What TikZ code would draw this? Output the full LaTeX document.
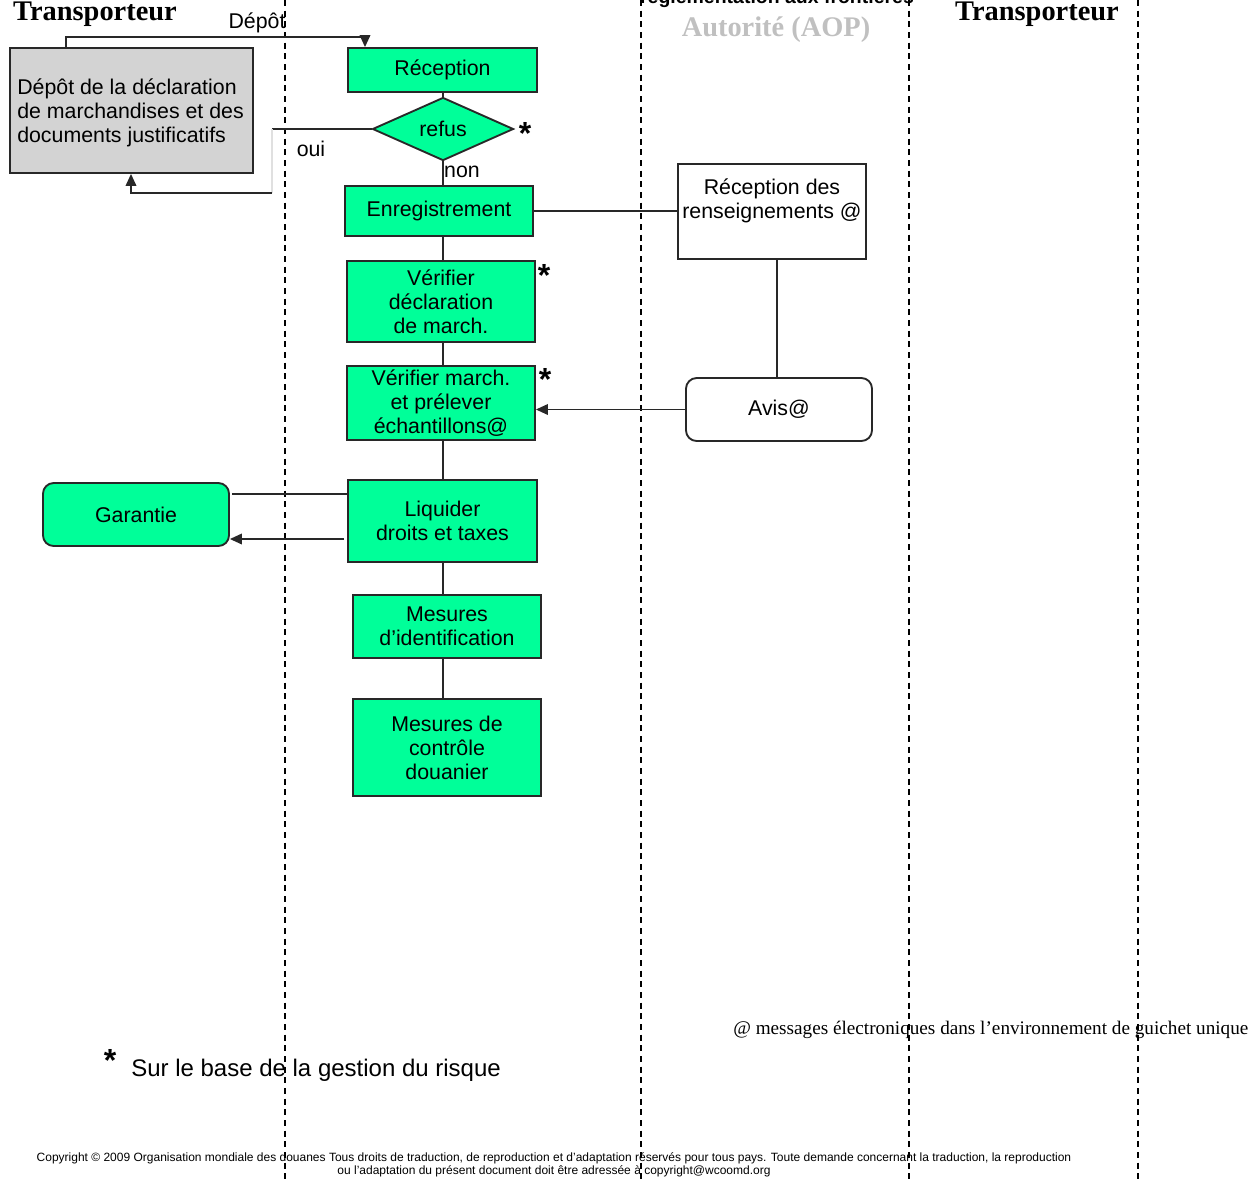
\documentclass[tikz,border=0pt]{standalone}
\usepackage{fontspec}
\setmainfont{Liberation Serif}
\setsansfont{Liberation Sans}
\usetikzlibrary{shapes.geometric,arrows.meta}
\definecolor{vert}{RGB}{0,255,153}
\definecolor{gris}{RGB}{211,211,211}
\definecolor{bord}{RGB}{40,40,40}
\definecolor{autor}{RGB}{192,192,192}
\newcommand\boxfont{\sffamily\fontsize{16}{18}\selectfont}
\begin{document}
\begin{tikzpicture}[x=0.75pt,y=-0.75pt,
  corners/.style n args={4}{minimum width={(#3-#1)*0.75pt},minimum height={(#4-#2)*0.75pt},at={({(#1+#3)/2},{(#2+#4)/2})}},
  box/.style={draw=bord,line width=1.4pt,fill=vert,inner sep=0pt,font=\boxfont,align=center},
  gbox/.style={box,fill=gris},
  wbox/.style={box,fill=white},
  conn/.style={line width=1.1pt,draw=bord},
  arr/.style={conn,-{Triangle[length=9pt,width=8pt]}},
  lane/.style={line width=1.2pt,dash pattern=on 4.5pt off 3.5pt},
  title/.style={font=\rmfamily\bfseries\fontsize{21.3}{24}\selectfont},
  lbl/.style={font=\boxfont,inner sep=0pt},
  star/.style={font=\sffamily\bfseries\fontsize{24}{24}\selectfont,inner sep=0pt}]
\useasboundingbox (0,0) rectangle (1256,1183);
\clip (0,0) rectangle (1256,1183);
% swimlane separators
\foreach \xx in {285,641,909,1138} \draw[lane] (\xx,0) -- (\xx,1183);
% headers
\node[title,anchor=base] (t1) at (95,20) {Transporteur};
\node[title,anchor=base] (t2) at (1037,20) {Transporteur};
\node[title,text=autor,anchor=base] (t3) at (776,36) {Autorité (AOP)};
\node[font=\sffamily\bfseries\fontsize{14.6}{16}\selectfont,anchor=base,inner sep=0pt] (t4) at (777,3) {réglementation aux frontières};
% nodes
\node[gbox,minimum width=243*0.75pt,minimum height=125*0.75pt] (depot) at (131.5,110.5) {};
\node[lbl,align=left,anchor=west] (depottxt) at (17,113) {Dépôt de la déclaration\\de marchandises et des\\documents justificatifs};
\node[box,corners={348}{48}{537}{92}] (recep) {Réception};
\node[diamond,draw=bord,line width=1.4pt,fill=vert,inner sep=0pt,minimum width=141*0.75pt,minimum height=54*0.75pt,font=\boxfont] (refus) at (443,129) {refus};
\node[star] (s1) at (525,133) {*};
\node[box,corners={345}{186}{533}{236}] (enr) {Enregistrement};
\node[box,corners={347}{261}{535}{342}] (vd) {Vérifier\\déclaration\\de march.};
\node[star] (s2) at (544,275) {*};
\node[box,corners={347}{366}{535}{440}] (vm) {Vérifier march.\\et prélever\\échantillons@};
\node[star] (s3) at (545,379) {*};
\node[box,corners={348}{480}{537}{562}] (liq) {Liquider\\droits et taxes};
\node[box,corners={353}{595}{541}{658}] (mid) {Mesures\\d’identification};
\node[box,corners={353}{699}{541}{796}] (mct) {Mesures de\\contrôle\\douanier};
\node[box,rounded corners=8pt,corners={43}{483}{229}{546}] (gar) {Garantie};
\node[wbox,corners={678}{164}{866}{259}] (ren) {};
\node[lbl,align=center] (rentxt) at (772,201) {Réception des\\renseignements @};
\node[wbox,rounded corners=8pt,corners={686}{378}{872}{441}] (avis) {Avis@};
% connectors
\draw[arr] (depot.north -| 66,0) -- (66,37) -| (recep.north -| 365,0);
\node[lbl,anchor=base] (ldep) at (257,28) {Dépôt};
\draw[conn] (recep.south -| 443,0) -- (refus.north);
\draw[conn] (refus.west) -- (272,129);
\draw[line width=1.1pt,black!12] (272,129) -- (272,193);
\draw[arr] (272,193) -- (131,193) -- (depot.south -| 131,0);
\node[lbl,anchor=base] (loui) at (311,156) {oui};
\draw[conn] (refus.south) -- (enr.north -| 443,0);
\node[lbl,anchor=base] (lnon) at (462,177) {non};
\draw[conn] (enr.east) -- (ren.west |- enr.east);
\draw[conn] (enr.south -| 443,0) -- (vd.north -| 443,0);
\draw[conn] (vd.south -| 443,0) -- (vm.north -| 443,0);
\draw[conn] (ren.south -| 777,0) -- (avis.north -| 777,0);
\draw[arr] (avis.west) -- (vm.east |- avis.west);
\draw[conn] (vm.south -| 443,0) -- (liq.north -| 443,0);
\draw[conn] (liq.west |- 0,494) -- (232,494);
\draw[arr] (344,539) -- (gar.east |- 0,539);
\draw[conn] (liq.south -| 443,0) -- (mid.north -| 443,0);
\draw[conn] (mid.south -| 443,0) -- (mct.north -| 443,0);
% notes
\node[font=\rmfamily\fontsize{14.4}{16}\selectfont,anchor=base west,inner sep=0pt] (note1) at (733,1034) {@ messages électroniques dans l’environnement de guichet unique};
\node[star] (s4) at (110,1060) {*};
\node[font=\sffamily\fontsize{18}{20}\selectfont,inner sep=0pt,anchor=base west] (note2) at (131,1076) {Sur le base de la gestion du risque};
\node[font=\sffamily\fontsize{9}{9.75}\selectfont,align=center,inner sep=0pt] (copy) at (554,1165) {Copyright © 2009 Organisation mondiale des douanes Tous droits de traduction, de reproduction et d’adaptation réservés pour tous pays. Toute demande concernant la traduction, la reproduction\\ou l’adaptation du présent document doit être adressée à copyright@wcoomd.org};
\end{tikzpicture}
\end{document}
